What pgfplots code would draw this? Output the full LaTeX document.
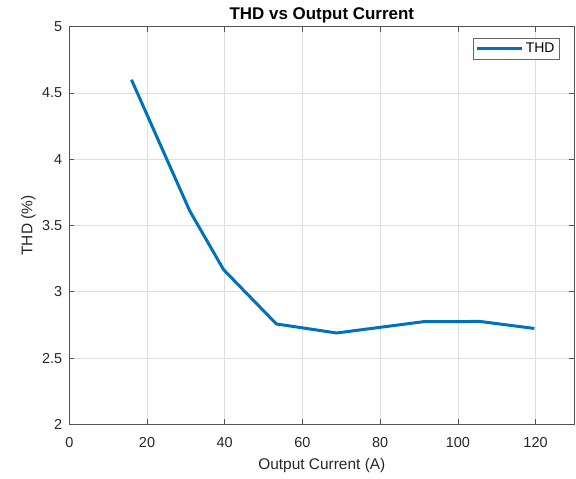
\documentclass[border=0pt]{standalone}
\usepackage{fontspec}
\setmainfont{Liberation Sans}
\usepackage{pgfplots}
\pgfplotsset{compat=1.18}
\definecolor{mblue}{rgb}{0,0.447,0.741}
\definecolor{mtext}{rgb}{0.15,0.15,0.15}
\pgfplotstableread{
x y
16 4.60
31 3.61
39.7 3.167
53.3 2.757
68.8 2.689
91.1 2.774
105.7 2.776
119.7 2.723
}\thd
\begin{document}
\begin{tikzpicture}
\path[use as bounding box] (-69.3bp,-54.7bp) rectangle (506.7bp,424.3bp);
\begin{axis}[
  at={(0,0)}, anchor=south west,
  scale only axis, width=505.1bp, height=397.6bp,
  xmin=0, xmax=130, ymin=2, ymax=5,
  xtick={0,20,...,120}, ytick={2,2.5,...,5},
  yticklabels={2,2.5,3,3.5,4,4.5,5},
  grid=major, major grid style={draw=black!13, line width=0.6pt},
  axis line style={draw=mtext!80, line width=0.7pt},
  tick align=inside, major tick length=5bp,
  tick style={draw=mtext!80, line width=0.6pt},
  /pgf/number format/assume math mode=true,
  tick label style={font=\fontsize{14.5}{16}\selectfont, text=mtext, inner sep=0pt},
  xticklabel style={anchor=base, yshift=-23.4bp},
  yticklabel style={anchor=east, xshift=-7bp},
  title={THD vs Output Current},
  every axis title shift=0pt,
  title style={font=\fontsize{17}{20}\selectfont\bfseries, text=black, at={(0.5,1)}, anchor=base, yshift=7.4bp, inner sep=0pt},
  xlabel={Output Current (A)},
  xlabel style={font=\fontsize{15.5}{18}\selectfont, text=mtext, at={(0.5,0)}, anchor=base, yshift=-45bp, inner sep=0pt},
  ylabel={THD (\%)},
  every axis y label/.style={font=\fontsize{15.5}{18}\selectfont, text=mtext, at={(axis description cs:0,0.5)}, rotate=90, anchor=base, yshift=37bp, inner sep=0pt},
  legend style={at={(0.97,0.972)}, anchor=north east, draw=mtext!70, line width=0.6pt, font=\fontsize{14}{16}\selectfont, text=black, inner xsep=2.5bp, inner ysep=3bp, row sep=0pt},
  legend cell align=left,
  legend image code/.code={\draw[#1, line width=3bp] (0bp,0bp) -- (45bp,0bp);},
]
\addplot[mblue, line width=3bp] table[x=x,y=y] {\thd};
\addlegendentry{THD}
\end{axis}
\end{tikzpicture}
\end{document}
